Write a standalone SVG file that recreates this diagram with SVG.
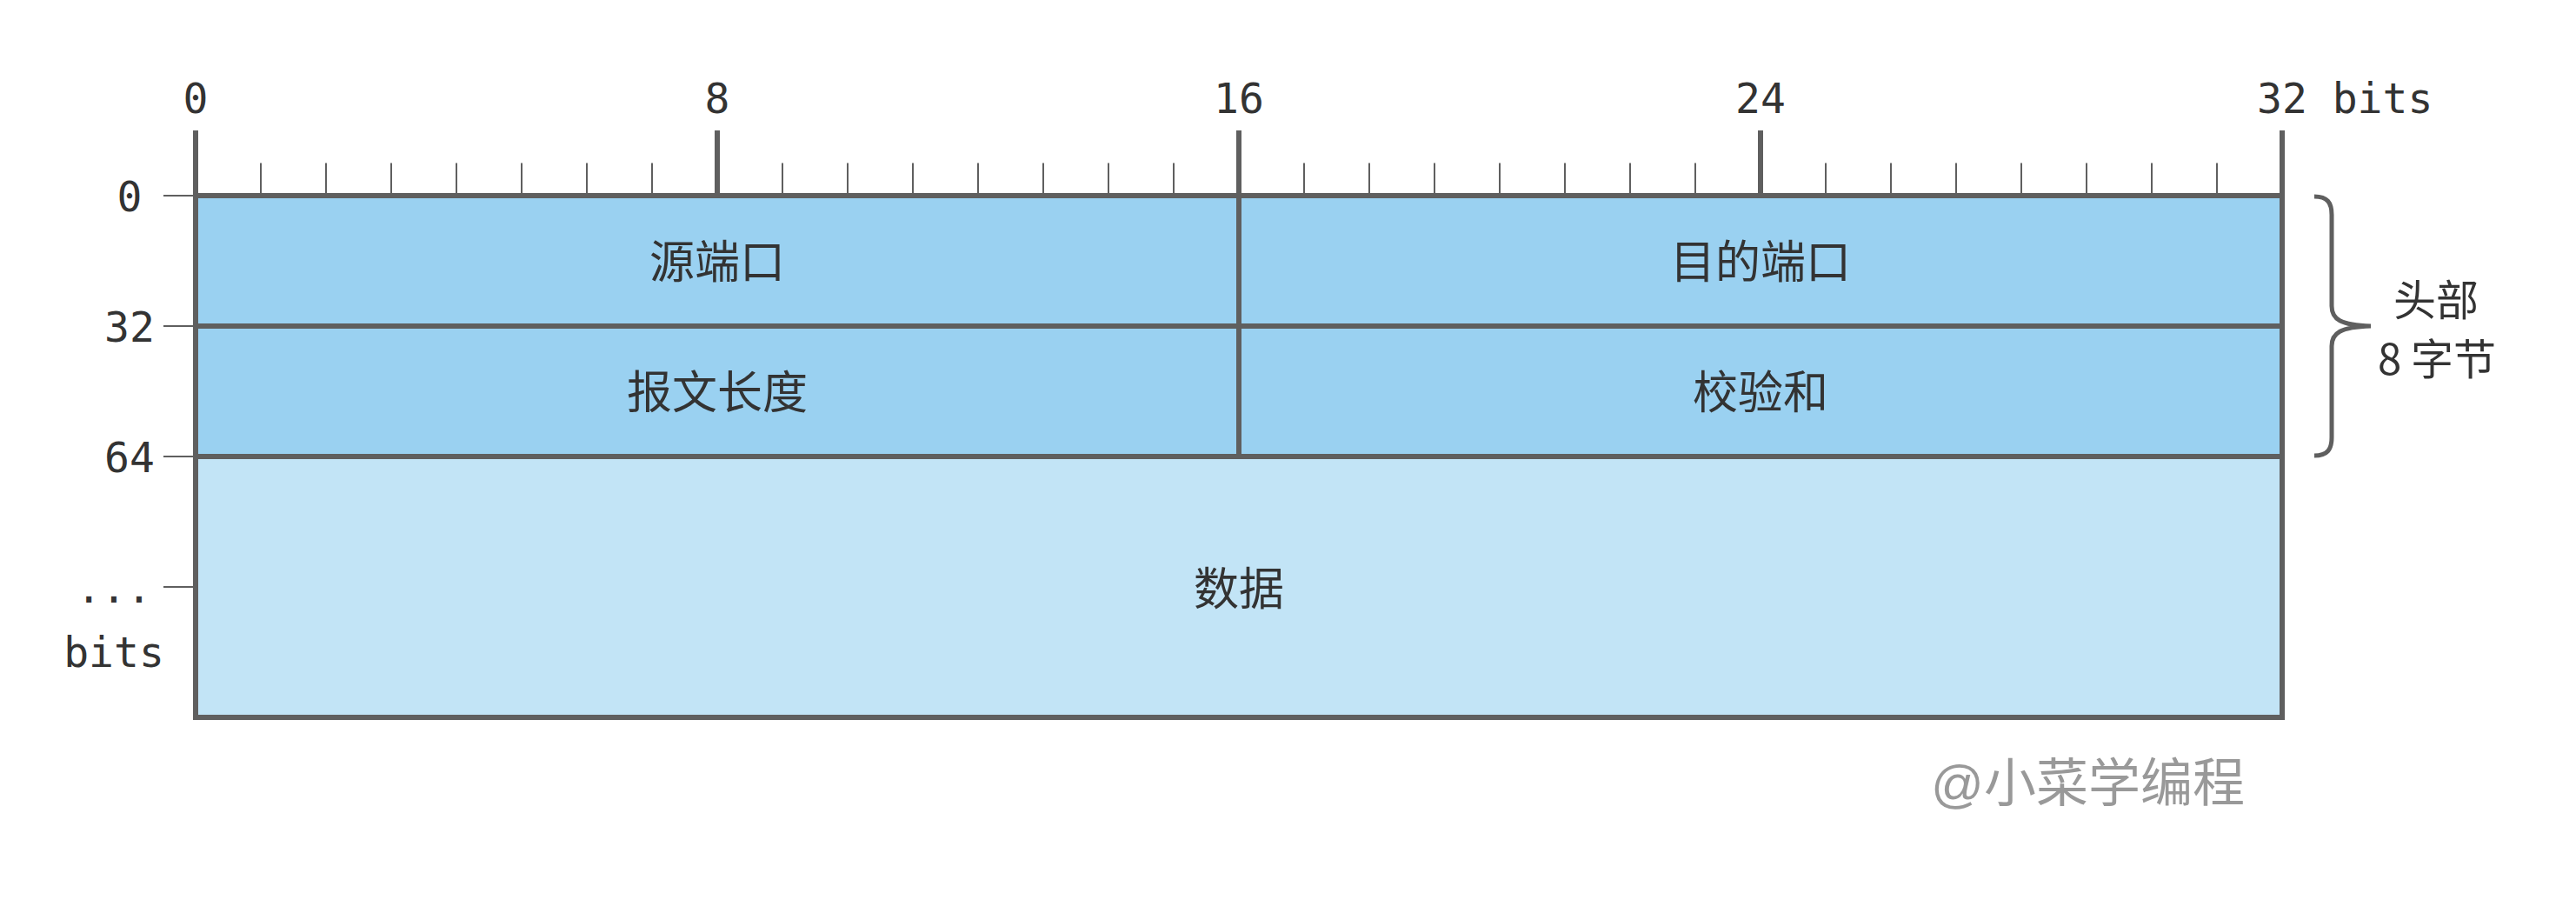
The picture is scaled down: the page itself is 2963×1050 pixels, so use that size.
<svg xmlns="http://www.w3.org/2000/svg" width="2963" height="1050" viewBox="0 0 2963 1050">
<style>
.mono{font-family:"DejaVu Sans Mono","Liberation Mono",monospace;font-size:48px;fill:#333333}
.cjk{font-family:"Noto Sans CJK SC","Noto Sans",sans-serif;font-size:52px;fill:#333333;text-anchor:middle}
.side{font-family:"Noto Sans CJK SC","Noto Sans",sans-serif;font-size:49px;fill:#333333;text-anchor:middle}
.hdr{fill:#9AD1F1;stroke:#5F5F5F;stroke-width:6}
.dat{fill:#C2E4F6;stroke:#5F5F5F;stroke-width:6}
.major{stroke:#5F5F5F;stroke-width:6}
.minor{stroke:#5F5F5F;stroke-width:2}
</style>
<rect width="2963" height="1050" fill="#ffffff"/>
<g id="top-axis">
  <g class="minor">
    <line x1="300" y1="187.5" x2="300" y2="225"/><line x1="375" y1="187.5" x2="375" y2="225"/><line x1="450" y1="187.5" x2="450" y2="225"/><line x1="525" y1="187.5" x2="525" y2="225"/><line x1="600" y1="187.5" x2="600" y2="225"/><line x1="675" y1="187.5" x2="675" y2="225"/><line x1="750" y1="187.5" x2="750" y2="225"/>
    <line x1="900" y1="187.5" x2="900" y2="225"/><line x1="975" y1="187.5" x2="975" y2="225"/><line x1="1050" y1="187.5" x2="1050" y2="225"/><line x1="1125" y1="187.5" x2="1125" y2="225"/><line x1="1200" y1="187.5" x2="1200" y2="225"/><line x1="1275" y1="187.5" x2="1275" y2="225"/><line x1="1350" y1="187.5" x2="1350" y2="225"/>
    <line x1="1500" y1="187.5" x2="1500" y2="225"/><line x1="1575" y1="187.5" x2="1575" y2="225"/><line x1="1650" y1="187.5" x2="1650" y2="225"/><line x1="1725" y1="187.5" x2="1725" y2="225"/><line x1="1800" y1="187.5" x2="1800" y2="225"/><line x1="1875" y1="187.5" x2="1875" y2="225"/><line x1="1950" y1="187.5" x2="1950" y2="225"/>
    <line x1="2100" y1="187.5" x2="2100" y2="225"/><line x1="2175" y1="187.5" x2="2175" y2="225"/><line x1="2250" y1="187.5" x2="2250" y2="225"/><line x1="2325" y1="187.5" x2="2325" y2="225"/><line x1="2400" y1="187.5" x2="2400" y2="225"/><line x1="2475" y1="187.5" x2="2475" y2="225"/><line x1="2550" y1="187.5" x2="2550" y2="225"/>
  </g>
  <g class="major">
    <line x1="225" y1="150" x2="225" y2="225"/><line x1="825" y1="150" x2="825" y2="225"/><line x1="1425" y1="150" x2="1425" y2="225"/><line x1="2025" y1="150" x2="2025" y2="225"/><line x1="2625" y1="150" x2="2625" y2="225"/>
  </g>
  <text class="mono" x="225" y="130" text-anchor="middle">0</text>
  <text class="mono" x="825" y="130" text-anchor="middle">8</text>
  <text class="mono" x="1425" y="130" text-anchor="middle">16</text>
  <text class="mono" x="2025" y="130" text-anchor="middle">24</text>
  <text class="mono" x="2596" y="130">32 bits</text>
</g>
<g id="left-axis">
  <g class="minor">
    <line x1="188" y1="225" x2="225" y2="225"/><line x1="188" y1="375" x2="225" y2="375"/><line x1="188" y1="525" x2="225" y2="525"/><line x1="188" y1="675" x2="225" y2="675"/>
  </g>
  <text class="mono" x="149" y="243" text-anchor="middle">0</text>
  <text class="mono" x="149" y="393" text-anchor="middle">32</text>
  <text class="mono" x="149" y="543" text-anchor="middle">64</text>
  <text class="mono" x="131" y="693" text-anchor="middle">...</text>
  <text class="mono" x="131" y="767" text-anchor="middle">bits</text>
</g>
<g id="cell-data">
  <rect class="dat" x="225" y="525" width="2400" height="300"/>
  <text class="cjk" x="1425" y="696">数据</text>
</g>
<g id="cell-src-port">
  <rect class="hdr" x="225" y="225" width="1200" height="150"/>
  <text class="cjk" x="825" y="320">源端口</text>
</g>
<g id="cell-dst-port">
  <rect class="hdr" x="1425" y="225" width="1200" height="150"/>
  <text class="cjk" x="2025" y="320">目的端口</text>
</g>
<g id="cell-length">
  <rect class="hdr" x="225" y="375" width="1200" height="150"/>
  <text class="cjk" x="825" y="470">报文长度</text>
</g>
<g id="cell-checksum">
  <rect class="hdr" x="1425" y="375" width="1200" height="150"/>
  <text class="cjk" x="2025" y="470">校验和</text>
</g>
<g id="header-brace">
  <path d="M2662,226 C2677,226 2682,233 2682,247 L2682,352 C2682,367 2692,374 2727,375 C2692,376 2682,383 2682,398 L2682,503 C2682,517 2677,524 2662,524" fill="none" stroke="#5F5F5F" stroke-width="5"/>
  <text class="side" x="2802" y="363">头部</text>
  <text class="side" x="2803" y="431">8 字节</text>
</g>
<g id="watermark">
  <text x="2221" y="922" style="font-family:'Liberation Sans','Noto Sans CJK SC',sans-serif;font-size:60px;fill:#999999">@小菜学编程</text>
</g>
</svg>
